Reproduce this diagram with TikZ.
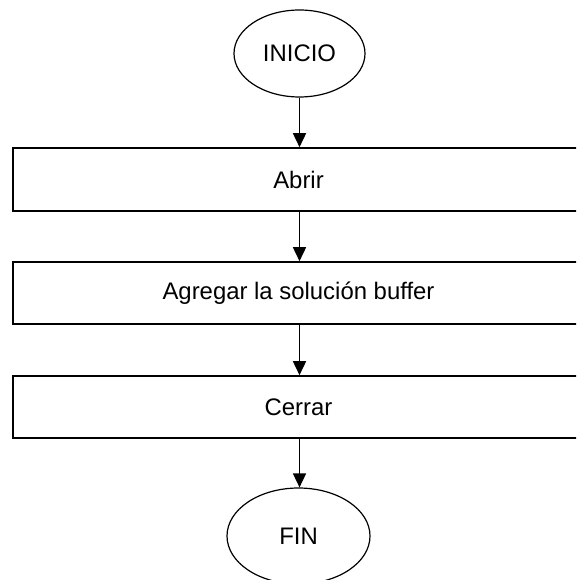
\documentclass[tikz,border=0pt]{standalone}
\usepackage{fontspec}
\setmainfont{Liberation Sans}
\usetikzlibrary{shapes.geometric,arrows.meta}
\begin{document}
\begin{tikzpicture}[x=1pt,y=-1pt,
  terminal/.style={draw=black,line width=1.2pt,ellipse,inner sep=0pt,
    font=\fontsize{23.9}{28}\selectfont},
  stepbox/.style={draw=black,line width=1.6pt,rectangle,inner sep=0pt,
    minimum width=571pt,font=\fontsize{23.9}{28}\selectfont},
  flow/.style={line width=1.6pt,-{Triangle[length=14pt,width=13pt]}}]
  \useasboundingbox (0,0) rectangle (576,580);
  \clip (0,0) rectangle (576,580);
  \fill[white] (0,0) rectangle (576,580);

  % start / end ovals
  \node[terminal,minimum width=131pt,minimum height=87pt] (ini) at (299.5,53.5) {INICIO};
  \node[terminal,minimum width=143pt,minimum height=96pt] (fin) at (298.5,536) {FIN};

  % process steps
  \node[stepbox,minimum height=63pt] (b1) at (298.5,179.5) {Abrir};
  \node[stepbox,minimum height=62pt] (b2) at (298.5,293) {Agregar la solución buffer};
  \node[stepbox,minimum height=62pt] (b3) at (298.5,407) {Cerrar};

  % connectors
  \draw[flow] (ini.south) -- (ini.south |- b1.north);
  \draw[flow] (b1.south -| ini.south) -- (ini.south |- b2.north);
  \draw[flow] (b2.south -| ini.south) -- (ini.south |- b3.north);
  \draw[flow] (b3.south -| ini.south) -- (ini.south |- fin.north);
\end{tikzpicture}
\end{document}
